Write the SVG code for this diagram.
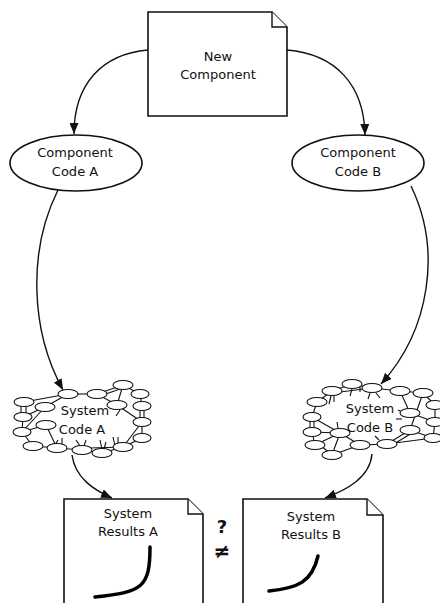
<svg xmlns="http://www.w3.org/2000/svg" width="440" height="603" viewBox="0 0 440 603">
<style>
.shape{fill:#fff;stroke:#111;stroke-width:1.6}
.fold{fill:#fff;stroke:#111;stroke-width:1.4}
.edge{fill:none;stroke:#111;stroke-width:1.4}
.lbl{font-family:"DejaVu Sans","Liberation Sans",sans-serif;font-size:13px;fill:#111;text-anchor:middle}
.net line{stroke:#111;stroke-width:1.1}
.net ellipse{fill:#fff;stroke:#111;stroke-width:1.1}
.curve{fill:none;stroke:#000;stroke-width:3.5;stroke-linecap:round}
</style>
<defs>
<marker id="arr" markerUnits="userSpaceOnUse" markerWidth="11" markerHeight="9" refX="11" refY="4.5" orient="auto">
<path d="M0,0 L11,4.5 L0,9 z" fill="#111"/>
</marker>
</defs>

<g id="connectors">
<path class="edge" d="M148,50 C102,54 74,84 74,134" marker-end="url(#arr)"/>
<path class="edge" d="M287,50 C335,54 364,84 365,135" marker-end="url(#arr)"/>
<path class="edge" d="M58,190 C28,250 30,330 63,390" marker-end="url(#arr)"/>
<path class="edge" d="M411,186 C442,250 430,330 381,384" marker-end="url(#arr)"/>
<path class="edge" d="M72,455 C75,478 94,490 112,498" marker-end="url(#arr)"/>
<path class="edge" d="M372,454 C370,478 346,490 325,498" marker-end="url(#arr)"/>
</g>

<g id="new-component">
<path class="shape" d="M148,12 H272 L287,27 V116 H148 Z"/>
<path class="fold" d="M272,12 V27 H287"/>
<text class="lbl" x="218" y="61">New</text>
<text class="lbl" x="218" y="79">Component</text>
</g>

<g id="component-code-a">
<ellipse class="shape" cx="76" cy="163" rx="66" ry="28"/>
<text class="lbl" x="75" y="157">Component</text>
<text class="lbl" x="75" y="176">Code A</text>
</g>

<g id="component-code-b">
<ellipse class="shape" cx="358" cy="163" rx="66" ry="28"/>
<text class="lbl" x="358" y="157">Component</text>
<text class="lbl" x="358" y="176">Code B</text>
</g>

<g id="system-code-a" class="net">
<line x1="24" y1="402" x2="68" y2="394"/>
<line x1="45" y1="407" x2="68" y2="394"/>
<line x1="68" y1="394" x2="97" y2="394"/>
<line x1="97" y1="394" x2="123" y2="385"/>
<line x1="97" y1="397" x2="123" y2="388"/>
<line x1="123" y1="385" x2="140" y2="394"/>
<line x1="123" y1="385" x2="117" y2="405"/>
<line x1="97" y1="394" x2="117" y2="405"/>
<line x1="140" y1="394" x2="142" y2="406"/>
<line x1="140" y1="406" x2="140" y2="422"/>
<line x1="144" y1="406" x2="144" y2="422"/>
<line x1="117" y1="405" x2="142" y2="422"/>
<line x1="142" y1="422" x2="123" y2="447"/>
<line x1="142" y1="422" x2="142" y2="438"/>
<line x1="142" y1="438" x2="123" y2="447"/>
<line x1="21" y1="402" x2="21" y2="417"/>
<line x1="26" y1="402" x2="26" y2="417"/>
<line x1="23" y1="417" x2="22" y2="432"/>
<line x1="23" y1="417" x2="45" y2="407"/>
<line x1="22" y1="432" x2="45" y2="407"/>
<line x1="46" y1="425" x2="22" y2="432"/>
<line x1="22" y1="432" x2="33" y2="446"/>
<line x1="46" y1="425" x2="57" y2="448"/>
<line x1="33" y1="446" x2="57" y2="448"/>
<line x1="57" y1="448" x2="82" y2="450"/>
<line x1="82" y1="450" x2="102" y2="453"/>
<line x1="90" y1="448" x2="123" y2="447"/>
<line x1="102" y1="453" x2="123" y2="447"/>
<line x1="58" y1="440" x2="55" y2="445"/>
<line x1="62" y1="438" x2="62" y2="444"/>
<line x1="76" y1="440" x2="80" y2="446"/>
<line x1="86" y1="440" x2="84" y2="446"/>
<line x1="100" y1="440" x2="102" y2="449"/>
<line x1="106" y1="442" x2="104" y2="449"/>
<line x1="113" y1="437" x2="115" y2="446"/>
<line x1="118" y1="437" x2="118" y2="444"/>
<line x1="120" y1="410" x2="116" y2="416"/>
<ellipse cx="68" cy="394" rx="10" ry="4.5"/>
<ellipse cx="97" cy="394" rx="10" ry="4.5"/>
<ellipse cx="123" cy="385" rx="10" ry="4.5"/>
<ellipse cx="140" cy="394" rx="9" ry="4.5"/>
<ellipse cx="24" cy="402" rx="10" ry="4.5"/>
<ellipse cx="45" cy="407" rx="10" ry="4.5"/>
<ellipse cx="117" cy="405" rx="10" ry="4.5"/>
<ellipse cx="142" cy="406" rx="9" ry="4.5"/>
<ellipse cx="23" cy="417" rx="9" ry="4.5"/>
<ellipse cx="46" cy="425" rx="10" ry="4.5"/>
<ellipse cx="142" cy="422" rx="9" ry="4.5"/>
<ellipse cx="22" cy="432" rx="9" ry="4.5"/>
<ellipse cx="142" cy="438" rx="9" ry="4.5"/>
<ellipse cx="33" cy="446" rx="10" ry="4.5"/>
<ellipse cx="57" cy="448" rx="10" ry="4.5"/>
<ellipse cx="82" cy="450" rx="10" ry="4.5"/>
<ellipse cx="102" cy="453" rx="10" ry="4.5"/>
<ellipse cx="123" cy="447" rx="10" ry="4.5"/>
<text class="lbl" x="85" y="415">System</text>
<text class="lbl" x="82" y="434">Code A</text>
</g>

<g id="system-code-b" class="net">
<line x1="332" y1="391" x2="352" y2="384"/>
<line x1="332" y1="393" x2="372" y2="388"/>
<line x1="352" y1="384" x2="372" y2="388"/>
<line x1="372" y1="388" x2="400" y2="391"/>
<line x1="400" y1="391" x2="423" y2="393"/>
<line x1="400" y1="391" x2="410" y2="413"/>
<line x1="423" y1="393" x2="435" y2="405"/>
<line x1="423" y1="393" x2="410" y2="430"/>
<line x1="317" y1="402" x2="332" y2="391"/>
<line x1="317" y1="402" x2="312" y2="417"/>
<line x1="310" y1="417" x2="310" y2="432"/>
<line x1="314" y1="417" x2="314" y2="432"/>
<line x1="312" y1="417" x2="340" y2="433"/>
<line x1="312" y1="432" x2="315" y2="445"/>
<line x1="312" y1="432" x2="340" y2="433"/>
<line x1="315" y1="445" x2="340" y2="433"/>
<line x1="320" y1="445" x2="332" y2="455"/>
<line x1="340" y1="433" x2="360" y2="445"/>
<line x1="332" y1="455" x2="360" y2="445"/>
<line x1="340" y1="433" x2="332" y2="455"/>
<line x1="360" y1="445" x2="387" y2="444"/>
<line x1="387" y1="444" x2="410" y2="430"/>
<line x1="389" y1="447" x2="412" y2="433"/>
<line x1="410" y1="430" x2="433" y2="438"/>
<line x1="410" y1="413" x2="435" y2="422"/>
<line x1="435" y1="405" x2="435" y2="422"/>
<line x1="435" y1="422" x2="433" y2="438"/>
<line x1="387" y1="444" x2="433" y2="438"/>
<line x1="331" y1="396" x2="329" y2="404"/>
<line x1="334" y1="396" x2="334" y2="402"/>
<line x1="352" y1="389" x2="350" y2="396"/>
<line x1="360" y1="386" x2="360" y2="392"/>
<line x1="370" y1="393" x2="368" y2="399"/>
<line x1="376" y1="393" x2="380" y2="398"/>
<line x1="404" y1="413" x2="398" y2="410"/>
<line x1="402" y1="419" x2="396" y2="419"/>
<line x1="338" y1="428" x2="337" y2="422"/>
<line x1="379" y1="440" x2="375" y2="436"/>
<ellipse cx="352" cy="384" rx="10" ry="4.5"/>
<ellipse cx="372" cy="388" rx="10" ry="4.5"/>
<ellipse cx="332" cy="391" rx="10" ry="4.5"/>
<ellipse cx="400" cy="391" rx="10" ry="4.5"/>
<ellipse cx="423" cy="393" rx="10" ry="4.5"/>
<ellipse cx="317" cy="402" rx="10" ry="4.5"/>
<ellipse cx="410" cy="413" rx="10" ry="4.5"/>
<ellipse cx="435" cy="405" rx="9" ry="4.5"/>
<ellipse cx="312" cy="417" rx="9" ry="4.5"/>
<ellipse cx="435" cy="422" rx="9" ry="4.5"/>
<ellipse cx="340" cy="433" rx="10" ry="4.5"/>
<ellipse cx="312" cy="432" rx="9" ry="4.5"/>
<ellipse cx="410" cy="430" rx="10" ry="4.5"/>
<ellipse cx="433" cy="438" rx="9" ry="4.5"/>
<ellipse cx="315" cy="445" rx="10" ry="4.5"/>
<ellipse cx="360" cy="445" rx="10" ry="4.5"/>
<ellipse cx="387" cy="444" rx="10" ry="4.5"/>
<ellipse cx="332" cy="455" rx="10" ry="4.5"/>
<text class="lbl" x="370" y="413">System</text>
<text class="lbl" x="370" y="432">Code B</text>
</g>

<g id="system-results-a">
<path class="shape" d="M64,499 H188 L203,514 V610 H64 Z"/>
<path class="fold" d="M188,499 V514 H203"/>
<text class="lbl" x="128" y="518">System</text>
<text class="lbl" x="128" y="536">Results A</text>
<path class="curve" d="M150,547 C150,588 142,592 95,597"/>
</g>

<g id="system-results-b">
<path class="shape" d="M243,499 H367 L383,515 V610 H243 Z"/>
<path class="fold" d="M367,499 V515 H383"/>
<text class="lbl" x="311" y="521">System</text>
<text class="lbl" x="311" y="539">Results B</text>
<path class="curve" d="M318,556 C312,582 298,588 269,591"/>
</g>

<g id="not-equal">
<text x="222" y="533" style="font-family:'DejaVu Sans','Liberation Sans',sans-serif;font-size:18px;font-weight:bold;fill:#111;text-anchor:middle">?</text>
<text x="222" y="558" style="font-family:'DejaVu Sans','Liberation Sans',sans-serif;font-size:20px;font-weight:bold;fill:#111;text-anchor:middle">≠</text>
</g>
</svg>
